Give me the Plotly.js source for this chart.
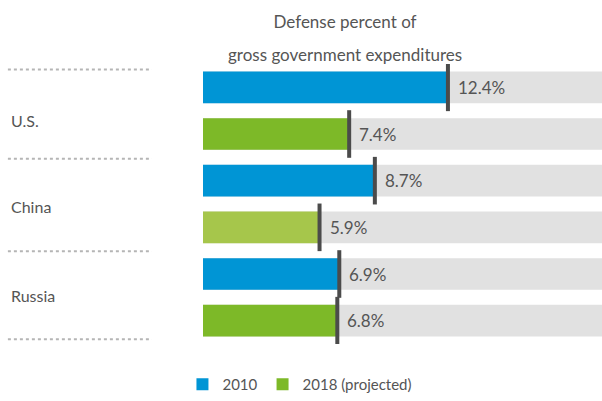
<!DOCTYPE html>
<html>
<head>
<meta charset="utf-8">
<script src="https://cdn.plot.ly/plotly-3.0.1.min.js"></script>
<style>html,body{margin:0;padding:0;background:#fff;}#chart{width:602px;height:401px;}</style>
</head>
<body>
<div id="chart"></div>
<script>
const countries = ["U.S.", "China", "Russia"];
const series2010 = [12.4, 8.7, 6.9];
const series2018 = [7.4, 5.9, 6.8];
const seriesNames = ["2010", "2018 (projected)"];
const titleLines = ["Defense percent of", "gross government expenditures"];
const colors2018 = ["#7db928", "#a6c64b", "#7db928"];
const axisMax = 20.2;

const BLUE = "#0095d5", GREEN = "#7db928", TRACK = "#e1e1e1", TICK = "#4b4b4b", TXT = "#555555";
const FONT = "Lato, 'Open Sans', sans-serif";

// row positions: each country has two rows (2010 then 2018)
const pos2010 = countries.map((c, i) => 2 * i);
const pos2018 = countries.map((c, i) => 2 * i + 1);
const allPos = pos2010.concat(pos2018);
const allVals = series2010.concat(series2018);

const BW = 0.68;
const traces = [
  {type: "bar", orientation: "h", y: allPos, x: allPos.map(() => axisMax), width: BW,
   marker: {color: TRACK}, showlegend: false, hoverinfo: "skip"},
  {type: "bar", orientation: "h", y: pos2010, x: series2010, width: BW, name: seriesNames[0],
   marker: {color: BLUE}},
  {type: "bar", orientation: "h", y: pos2018, x: series2018, width: BW, name: seriesNames[1],
   marker: {color: colors2018}},
  {type: "scatter", mode: "markers", y: allPos, x: allVals, showlegend: false, hoverinfo: "skip",
   marker: {symbol: "line-ns", size: 34, line: {width: 4, color: TICK}, color: TICK}}
];

const annotations = [];
allPos.forEach((p, i) => {
  annotations.push({x: allVals[i], y: p, xref: "x", yref: "y", text: allVals[i].toFixed(1) + "%",
    showarrow: false, xanchor: "left", yanchor: "middle", xshift: 8,
    font: {family: FONT, size: 17, color: TXT}});
});
const labelPos = [0.72, 2.55, 4.47];
countries.forEach((c, i) => {
  annotations.push({x: 0, y: labelPos[i], xref: "paper", yref: "y", text: c, showarrow: false,
    xanchor: "left", yanchor: "middle", xshift: -194,
    font: {family: FONT, size: 16, color: TXT}});
});
// second title line
annotations.push({x: 0.356, y: 1.034, xref: "paper", yref: "paper", text: titleLines[1],
  showarrow: false, xanchor: "center", yanchor: "middle",
  font: {family: FONT, size: 17, color: TXT}});

const sepY = [-0.38, 1.53, 3.51, 5.40];
const shapes = sepY.map(y => ({type: "line", xref: "paper", yref: "y",
  x0: -0.489, x1: -0.128, y0: y, y1: y, line: {color: "#b5b5b5", width: 2, dash: "dot"}}));

const layout = {
  width: 602, height: 401,
  margin: {l: 203, r: 0, t: 64, b: 55},
  paper_bgcolor: "#fff", plot_bgcolor: "#fff",
  barmode: "overlay",
  title: {text: titleLines[0],
    x: 0.356, xref: "paper", xanchor: "center", y: 0.946, yref: "container", yanchor: "middle",
    font: {family: FONT, size: 17, color: TXT}},
  xaxis: {range: [0, axisMax], visible: false, fixedrange: true},
  yaxis: {range: [5.5, -0.5], visible: false, fixedrange: true},
  showlegend: true,
  legend: {orientation: "h", x: 0.243, xanchor: "center", y: -0.145, yanchor: "middle",
    font: {family: FONT, size: 15, color: TXT}, itemwidth: 30, tracegroupgap: 0},
  annotations: annotations,
  shapes: shapes
};

Plotly.newPlot("chart", traces, layout, {displayModeBar: false, staticPlot: true});
</script>
</body>
</html>
